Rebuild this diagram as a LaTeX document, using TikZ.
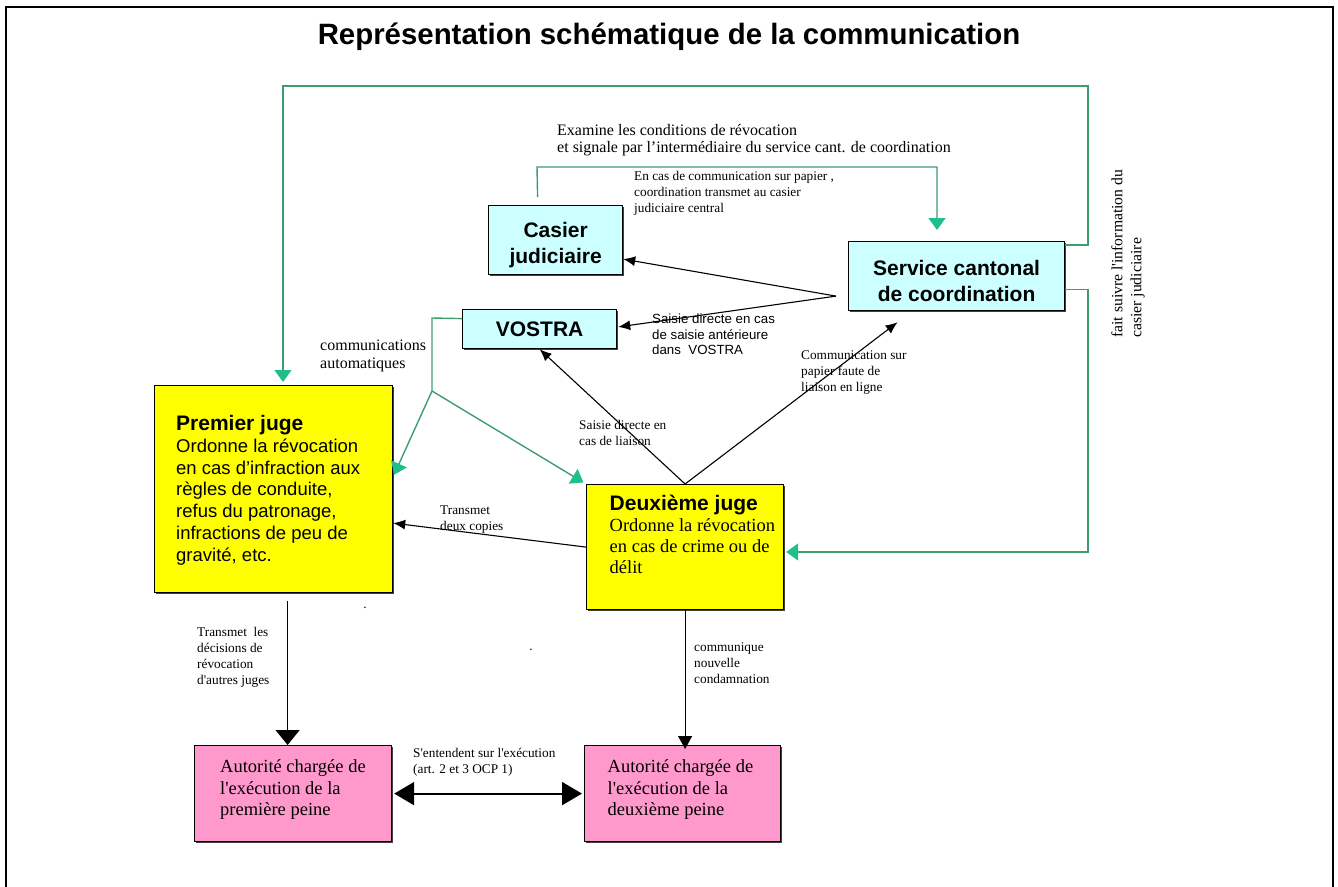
\documentclass[tikz,border=0pt]{standalone}
\usepackage{fontspec}
\setmainfont{Liberation Serif}[Ligatures=TeXOff]
\newfontfamily\arialf{Liberation Sans}[Ligatures=TeXOff]
\usetikzlibrary{arrows.meta,shadows,calc}
\definecolor{cyanbox}{RGB}{204,255,255}
\definecolor{yelbox}{RGB}{255,255,0}
\definecolor{pinkbox}{RGB}{255,153,204}
\definecolor{gcol}{RGB}{60,158,110}
\definecolor{gtip}{RGB}{32,190,140}
\begin{document}
\begin{tikzpicture}[x=1pt,y=-1pt,
  box/.style={draw=black,line width=1.2pt,anchor=north west,inner sep=0pt,
    drop shadow={shadow xshift=1.3pt,shadow yshift=-1.3pt,fill=black!75,opacity=1}},
  boxtitle/.style={font=\arialf\bfseries\fontsize{21}{26}\selectfont,align=center},
  lab/.style={inner sep=0pt,align=left,font=\fontsize{13.3}{16}\selectfont},
  labs/.style={inner sep=0pt,align=left,font=\arialf\fontsize{13.3}{15.6}\selectfont},
  gline/.style={draw=gcol,line width=1.4pt},
  garrow/.style={gline,-{Triangle[length=12pt,width=17pt,color=gtip,fill=gtip]}},
  barrow/.style={draw=black,line width=1.1pt,-{Latex[length=12pt,width=10pt]}},
]
\useasboundingbox (0,0) rectangle (1338,886);
% outer frame
\draw[line width=2.5pt] (6,890) -- (6,7) -- (1333,7) -- (1333,890);

% title
\node[font=\arialf\bfseries\fontsize{29.4}{34}\selectfont] (title) at (669,37)
  {Représentation schématique de la communication};

% boxes
\node[box,fill=cyanbox,minimum width=134pt,minimum height=69pt,boxtitle] (cas) at (488,205)
  {\rule{0pt}{25pt}Casier\\judiciaire};
\node[box,fill=cyanbox,minimum width=216pt,minimum height=69pt,boxtitle] (svc) at (848,241)
  {\rule{0pt}{25pt}Service cantonal\\de coordination};
\node[box,fill=cyanbox,minimum width=154pt,minimum height=39pt,boxtitle] (vos) at (462,309)
  {VOSTRA};
\node[box,fill=yelbox,minimum width=238pt,minimum height=207pt] (pj) at (154,385) {};
\node[anchor=west,inner sep=0pt,align=left,font=\arialf\fontsize{18.5}{21.7}\selectfont] (pjt)
  at ([xshift=22pt,yshift=-1.5pt]pj.west)
  {{\bfseries\fontsize{21}{21.7}\selectfont Premier juge}\\
   Ordonne la révocation\\
   en cas d’infraction aux\\
   règles de conduite,\\
   refus du patronage,\\
   infractions de peu de\\[1pt]
   gravité, etc.};
\node[box,fill=yelbox,minimum width=197pt,minimum height=125pt] (deux) at (586,484) {};
\node[anchor=west,inner sep=0pt,align=left,font=\fontsize{18.5}{21}\selectfont] (deuxt)
  at ([xshift=23.5pt,yshift=13pt]deux.west)
  {{\arialf\bfseries\fontsize{21}{21}\selectfont Deuxième juge}\\
   Ordonne la révocation\\
   en cas de crime ou de\\
   délit};
\node[box,fill=pinkbox,minimum width=197pt,minimum height=96pt] (pk1) at (194,745) {};
\node[anchor=west,inner sep=0pt,align=left,font=\fontsize{18.5}{21.7}\selectfont] (pk1t)
  at ([xshift=26pt,yshift=4pt]pk1.west)
  {Autorité chargée de\\l'exécution de la\\première peine};
\node[box,fill=pinkbox,minimum width=196pt,minimum height=96pt] (pk2) at (584,745) {};
\node[anchor=west,inner sep=0pt,align=left,font=\fontsize{18.5}{21.7}\selectfont] (pk2t)
  at ([xshift=23.5pt,yshift=4pt]pk2.west)
  {Autorité chargée de\\l'exécution de la\\deuxième peine};

% labels
\node[inner sep=0pt,align=left,font=\fontsize{16}{17.5}\selectfont,anchor=west] (l1) at (557,140)
  {Examine les conditions de révocation\\et signale par l’intermédiaire du service cant. de coordination};
\node[lab,anchor=west] (l2) at (634,193)
  {En cas de communication sur papier ,\\coordination transmet au casier\\judiciaire central};
\node[inner sep=0pt,align=left,font=\fontsize{16}{17.7}\selectfont,anchor=west] (l3) at (320,356)
  {communications\\automatiques};
\node[labs,anchor=west] (l4) at (652,334.5)
  {Saisie directe en cas\\de saisie antérieure\\dans\ \ VOSTRA};
\node[lab,anchor=west] (l5) at (579,433)
  {Saisie directe en\\cas de liaison};
\node[lab,anchor=west] (l6) at (801,373)
  {Communication sur\\papier faute de\\liaison en ligne};
\node[lab,anchor=west] (l7) at (440,520)
  {Transmet\\deux copies};
\node[lab,anchor=west] (l8) at (197,657)
  {Transmet\ \ les\\décisions de\\révocation\\d'autres juges};
\node[lab,anchor=west] (l9) at (694,663)
  {communique\\nouvelle\\condamnation};
\node[lab,anchor=west] (l10) at (413,762)
  {S'entendent sur l'exécution\\(art. 2 et 3 OCP 1)};
\node[inner sep=0pt,align=left,font=\fontsize{15.7}{19}\selectfont,rotate=90,anchor=west] (l11) at (1128,338)
  {fait suivre l'information du\\casier judiciaire};
\node[lab] (dot1) at (365,608) {.};
\node[lab] (dot2) at (531,650) {.};

% green connectors
\coordinate (gA) at (1088,86);
\coordinate (gB) at (283,86);
\draw[garrow,shorten >=3pt] ([yshift=-4pt]svc.north east) -| (gA) -- (gB) -- (gB |- pj.north);
\coordinate (gC) at (537,167);
\coordinate (gD) at (937,167);
\draw[garrow,shorten >=11pt] ([xshift=-18pt,yshift=8pt]cas.north) -- (gC) -- (gD) -- (gD |- svc.north);
\coordinate (gE) at (432,318);
\coordinate (gF) at (432,391);
\draw[gline] ([yshift=10.5pt]vos.west) -- (gE) -- (gF);
\draw[garrow,shorten >=2pt] (gF) -- ([yshift=12.5pt]pj.east);
\draw[garrow,shorten >=3pt] (gF) -- (deux.north west);
\coordinate (gG) at (1088,552);
\draw[garrow,shorten >=2pt] ([yshift=-13.5pt]svc.east) -| (gG) -- (gG -| deux.east);

% black connectors
\draw[barrow] ([xshift=-12pt,yshift=-20pt]svc.west) -- ([yshift=-19pt]cas.east);
\draw[barrow,shorten >=1pt] ([xshift=-12pt,yshift=-20pt]svc.west) -- ([yshift=2pt]vos.east);
\draw[barrow] (deux.north) -- (vos.south);
\draw[barrow] (deux.north) -- ([xshift=-59pt,yshift=-11pt]svc.south);
\draw[barrow] (deux.west) -- ([yshift=-34pt]pj.east);
\draw[draw=black,line width=1.1pt,-{Triangle[length=15pt,width=24pt]}]
  ([xshift=14pt,yshift=-8pt]pj.south) coordinate (t1) -- (t1 |- pk1.north);
\draw[draw=black,line width=1.1pt,-{Triangle[length=13pt,width=14pt]},shorten >=-4pt]
  (deux.south) -- (deux.south |- pk2.north);
\draw[draw=black,line width=2pt,{Triangle[length=20pt,width=23pt]}-{Triangle[length=20pt,width=23pt]},shorten <=2pt,shorten >=2pt]
  (pk1.east) -- (pk2.west);
\end{tikzpicture}
\end{document}
